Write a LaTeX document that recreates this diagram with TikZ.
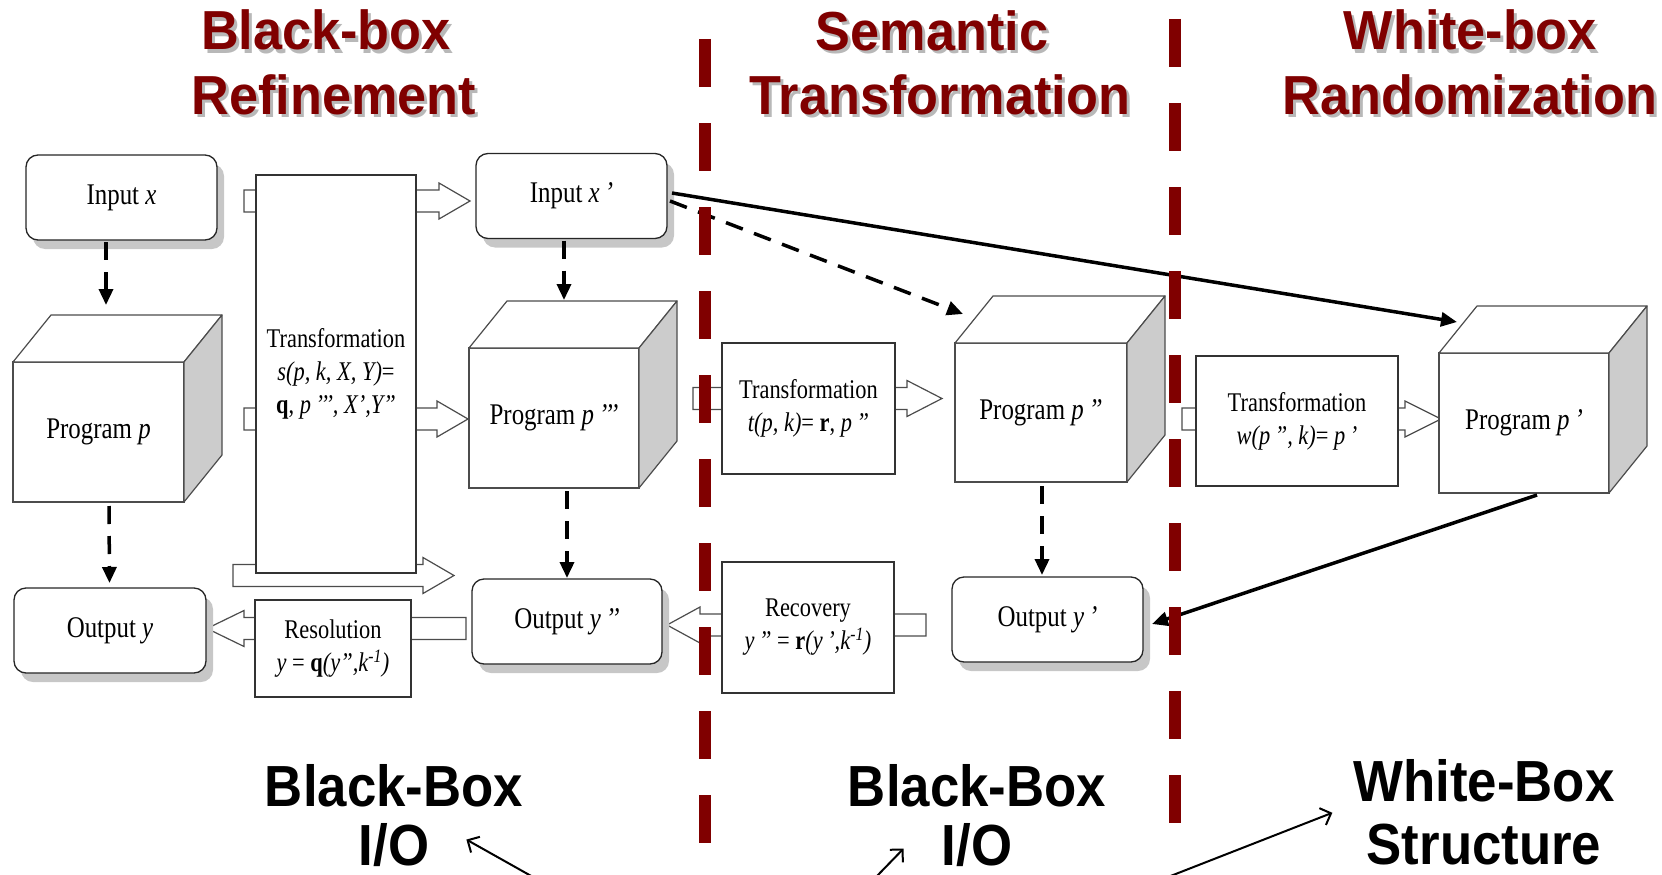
\documentclass[tikz,border=0pt]{standalone}
\usepackage{fontspec}
\setmainfont{Liberation Serif}[FakeStretch=0.83]
\newfontfamily\headfont{Liberation Sans}[FakeStretch=0.95]
\newfontfamily\capfont{Liberation Sans}[FakeStretch=0.91]
\usetikzlibrary{arrows.meta,shadows,calc}
\definecolor{darkred}{RGB}{128,0,0}

% hollow block arrow from a tail coordinate to a tip coordinate (#3 = head length)
\newcommand\blockarr[3]{%
  \draw[blk] let \p1=(#1), \p2=(#2) in
    ({\x1},{\y2+11pt}) -- ({\x2-(#3)},{\y2+11pt}) -- ({\x2-(#3)},{\y2+18pt})
    -- ({\x2},{\y2}) -- ({\x2-(#3)},{\y2-18pt}) -- ({\x2-(#3)},{\y2-11pt})
    -- ({\x1},{\y2-11pt}) -- cycle;}

% top and side faces of a program cube whose front face is node #1
\newcommand\cubefaces[1]{%
  \draw[cubeline,fill=white] (#1.north west) -- ([xshift=38pt,yshift=47pt]#1.north west)
    -- ([xshift=38pt,yshift=47pt]#1.north east) -- (#1.north east) -- cycle;
  \draw[cubeline,fill=black!20] (#1.north east) -- ([xshift=38pt,yshift=47pt]#1.north east)
    -- ([xshift=38pt,yshift=47pt]#1.south east) -- (#1.south east) -- cycle;}

% heading with a soft grey drop shadow
\newcommand\heading[3]{%
  \node[hdsh] (#2s) at ([xshift=3pt,yshift=-3pt]#1) {#3};
  \node[hd] (#2) at (#1) {#3};}

\tikzset{
  rbox/.style={draw=black!85, line width=1.3pt, rounded corners=12pt, fill=white,
    minimum width=191pt, minimum height=85pt, inner sep=0pt, outer sep=0pt,
    font=\fontsize{30}{34}\selectfont,
    drop shadow={shadow xshift=7pt, shadow yshift=-9pt, fill=black!22, opacity=1}},
  sbox/.style={draw=black!80, line width=1.2pt, fill=white, inner sep=0pt, outer sep=0pt,
    align=center, font=\fontsize{27}{33}\selectfont},
  front/.style={draw=black!70, line width=1.2pt, fill=white, minimum width=170pt,
    minimum height=140pt, inner sep=0pt, outer sep=0pt, font=\fontsize{30}{34}\selectfont},
  cubeline/.style={draw=black!70, line width=1.2pt, line join=round},
  blk/.style={draw=black!70, line width=1.2pt, fill=white},
  dasharr/.style={line width=3.5pt, dash pattern=on 18pt off 12pt,
    -{Triangle[length=16pt,width=14pt]}},
  solidarr/.style={line width=3.5pt, -{Triangle[length=16pt,width=14pt]}},
  thinarr/.style={line width=2pt, -{Straight Barb[length=9pt,width=18pt]}},
  divider/.style={draw=darkred, line width=12pt, dash pattern=on 48pt off 36pt},
  hd/.style={text=darkred, font=\headfont\bfseries\fontsize{55}{60}\selectfont,
    anchor=base, inner sep=0pt},
  hdsh/.style={hd, text=black!28},
  bottomlbl/.style={font=\capfont\bfseries\fontsize{58}{60}\selectfont, anchor=base, inner sep=0pt}
}

\begin{document}
\begin{tikzpicture}[x=1pt,y=-1pt]
\useasboundingbox (0,0) rectangle (1662,875);

% ---- hollow block arrows (drawn first, boxes sit on top of them)
\coordinate (a1t) at (244,201);   \coordinate (a1h) at (470,201);
\coordinate (a2t) at (244,419);   \coordinate (a2h) at (468,419);
\coordinate (a3t) at (233,575.5); \coordinate (a3h) at (454,575.5);
\coordinate (a4t) at (693,398.5); \coordinate (a4h) at (942,398.5);
\coordinate (a5t) at (1182,419);  \coordinate (a5h) at (1441,419);
\coordinate (a6t) at (926,625);   \coordinate (a6h) at (667,625);
\coordinate (a7t) at (466,628.5); \coordinate (a7h) at (207,628.5);
\blockarr{a1t}{a1h}{31pt}
\blockarr{a2t}{a2h}{31pt}
\blockarr{a3t}{a3h}{31pt}
\blockarr{a4t}{a4h}{35pt}
\blockarr{a5t}{a5h}{36pt}
\blockarr{a6t}{a6h}{-33pt}
\blockarr{a7t}{a7h}{-37pt}

% ---- inputs and outputs
\node[rbox] (inx)  at (121.5,197.5) {Input \textit{x}};
\node[rbox] (inxp) at (571.5,196)   {Input \textit{x\,’}};
\node[rbox, minimum width=192pt] (oy)   at (110,630.5)  {Output \textit{y}};
\node[rbox, minimum width=190pt] (oypp) at (567,621.5)  {Output \textit{y\,’’}};
\node[rbox] (oyp)  at (1047.5,619.5) {Output \textit{y\,’}};

% ---- programs
\node[front, minimum width=171pt] (pp) at (98.5,432) {Program \textit{p}};
\cubefaces{pp}
\node[front] (ppp) at (554,418) {Program \textit{p\,’’’}};
\cubefaces{ppp}
\node[front, minimum width=172pt, minimum height=139pt] (p2) at (1041,412.5) {Program \textit{p\,”}};
\cubefaces{p2}
\node[front] (p1) at (1524,423) {Program \textit{p\,’}};
\cubefaces{p1}

% ---- transformation steps
\node[sbox, minimum width=160pt, minimum height=398pt] (bigT) at (336,374)
  {Transformation\\ \textit{s(p, k, X, Y)}=\\ \textbf{q}, \textit{p\,’’’, X’,Y”}};
\node[sbox, minimum width=173pt, minimum height=131pt] (tt) at (808.5,408.5)
  {Transformation\\ \textit{t(p, k)}= \textbf{r}, \textit{p\,”}};
\node[sbox, minimum width=202pt, minimum height=130pt] (wt) at (1297,421)
  {Transformation\\ \textit{w(p\,”, k)}= \textit{p\,’}};
\node[sbox, minimum width=156pt, minimum height=97pt] (res) at (333,648.5)
  {Resolution\\ \textit{y} = \textbf{q}\textit{(y”,k\textsuperscript{-1})}};
\node[sbox, minimum width=172pt, minimum height=131pt] (rec) at (808,627.5)
  {Recovery\\ \textit{y\,”} = \textbf{r}\textit{(y\,’,k\textsuperscript{-1})}};

% ---- execution flow
\draw[dasharr] ([xshift=-15.5pt,yshift=-2pt]inx.south) -- ([xshift=7.5pt,yshift=57pt]pp.north);
\draw[dasharr] ([xshift=10.5pt,yshift=-4pt]pp.south) -- ([xshift=-0.5pt,yshift=5pt]oy.north);
\draw[dasharr] ([xshift=-7.5pt,yshift=-2pt]inxp.south) -- ([xshift=10pt,yshift=48pt]ppp.north);
\draw[dasharr] ([xshift=13pt,yshift=-3pt]ppp.south) -- ([yshift=1pt]oypp.north);
\draw[dasharr] ([xshift=1pt,yshift=-4pt]p2.south) -- ([xshift=-5.5pt,yshift=2pt]oyp.north);
\draw[dasharr] ([xshift=3pt,yshift=-5pt]inxp.east) -- ([xshift=8pt,yshift=29pt]p2.north west);
\draw[solidarr] ([xshift=5pt,yshift=3pt]inxp.east) -- ([xshift=18pt,yshift=31pt]p1.north west);
\draw[solidarr] ([xshift=13pt,yshift=-2pt]p1.south) -- ([xshift=9pt,yshift=-4.5pt]oyp.east);

% ---- stage dividers
\coordinate (d1a) at (705,39);  \coordinate (d1b) at (705,843);
\coordinate (d2a) at (1175,19); \coordinate (d2b) at (1175,823);
\draw[divider] (d1a) -- (d1b);
\draw[divider] (d2a) -- (d2b);

% ---- stage headings
\heading{326,50}{h1}{Black-box}
\heading{334,114}{h2}{Refinement}
\heading{932,51}{h3}{Semantic}
\heading{940,114}{h4}{Transformation}
\heading{1470,50}{h5}{White-box}
\heading{1470,114}{h6}{Randomization}

% ---- access model labels
\node[bottomlbl] (bb1) at (394,806) {Black-Box};
\node[bottomlbl] (io1) at (394,865) {I/O};
\node[bottomlbl] (bb2) at (977,806) {Black-Box};
\node[bottomlbl] (io2) at (977,865) {I/O};
\node[bottomlbl] (wb)  at (1484,801) {White-Box};
\node[bottomlbl] (st)  at (1484,864) {Structure};

\coordinate (t1) at (533,877);
\coordinate (t2) at (876,877);
\coordinate (t3) at (1168,877);
\draw[thinarr] (t1) -- ([xshift=37pt,yshift=5pt]io1.east);
\draw[thinarr] (t2) -- ([xshift=-38pt,yshift=-4pt]io2.west);
\draw[thinarr] (t3) -- ([xshift=-21pt,yshift=-11pt]wb.south west);
\end{tikzpicture}
\end{document}
